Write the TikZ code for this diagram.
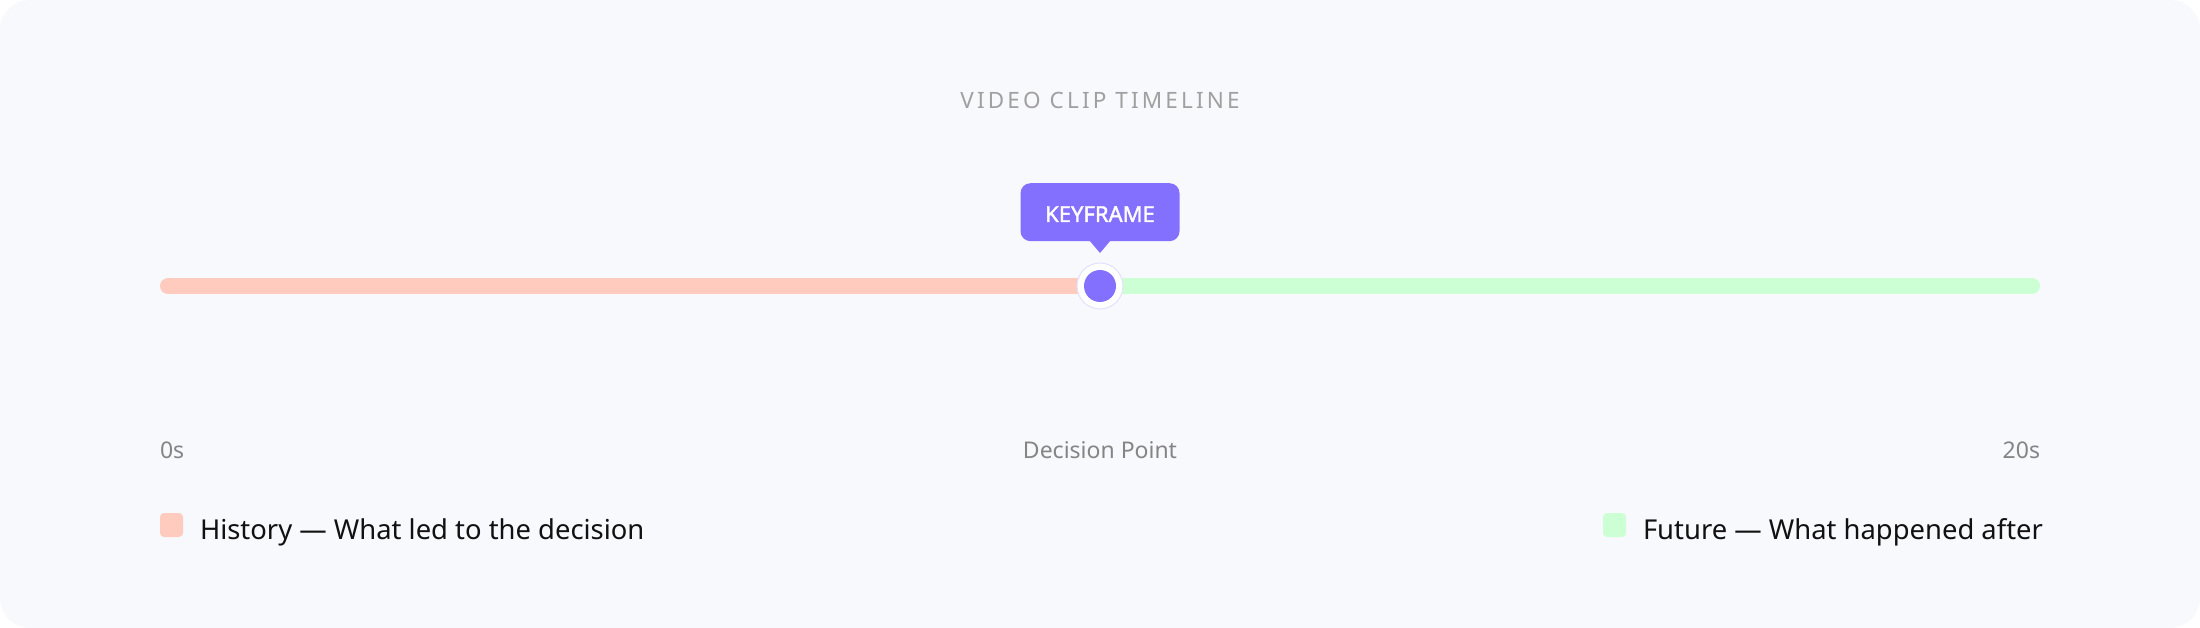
\documentclass[tikz,border=0pt]{standalone}
\usepackage{fontspec}
\setmainfont{Noto Sans}
\newfontfamily\titlefont[LetterSpace=14]{Noto Sans}
\newfontfamily\kffont[FakeBold=1.6]{Noto Sans}
\definecolor{bgc}{HTML}{F8F9FD}
\definecolor{hist}{HTML}{FFCBBE}
\definecolor{fut}{HTML}{CCFFD4}
\definecolor{kfp}{HTML}{8470FF}
\definecolor{ringc}{HTML}{E4E0FF}
\definecolor{titlec}{HTML}{A0A0A0}
\definecolor{axisc}{HTML}{858585}
\definecolor{legc}{HTML}{111111}
\tikzset{
  lbl/.style={inner sep=0pt, outer sep=0pt},
  axislbl/.style={lbl, text=axisc, font=\fontsize{23}{26}\selectfont},
  leglbl/.style={lbl, text=legc, font=\fontsize{27.4}{30}\selectfont, anchor=base west},
  legsq/.style={rounded corners=4pt, draw=none},
  barline/.style={line width=16pt, line cap=round},
}
\begin{document}
\begin{tikzpicture}[x=1pt,y=-1pt]
\useasboundingbox (0,0) rectangle (2200,628);
\fill[white] (0,0) rectangle (2200,628);
\fill[bgc, rounded corners=30pt] (0,0) rectangle (2200,628);
% title
\node[lbl, anchor=base, text=titlec, font=\titlefont\fontsize{22.5}{24}\selectfont] (title) at (1100,109) {VIDEO CLIP TIMELINE};
% bars
\coordinate (barL) at (168,286);
\coordinate (barM) at (1100,286);
\coordinate (barR) at (2032,286);
\draw[barline, hist] (barL) -- (barM);
\draw[barline, fut] (barM) -- (barR);
% keyframe marker
\node[circle, fill=white, draw=ringc, line width=1pt, minimum size=46pt, inner sep=0pt] (ring) at (barM) {};
\node[circle, fill=kfp, minimum size=32pt, inner sep=0pt] (kf) at (barM) {};
% tooltip
\node[fill=kfp, rounded corners=10pt, minimum width=159pt, minimum height=58pt, inner sep=0pt, anchor=north] (tip) at (1100,183) {};
\node[lbl, anchor=base, text=white, font=\kffont\fontsize{22}{24}\selectfont] (tiptext) at (1100,222) {KEYFRAME};
\coordinate (triL) at (1089,240);
\coordinate (triR) at (1111,240);
\coordinate (triT) at (1100,253);
\fill[kfp] (triL) -- (triR) -- (triT) -- cycle;
% axis labels
\node[axislbl, anchor=base west] (t0) at (160,458) {0s};
\node[axislbl, anchor=base] (tdp) at (1100,458) {Decision Point};
\node[axislbl, anchor=base east] (t20) at (2040,458) {20s};
% legend
\fill[hist, legsq] (160,513) rectangle (183,537);
\node[lbl] (hsq) at (171,525) {};
\node[leglbl] (htext) at (200,539) {History — What led to the decision};
\fill[fut, legsq] (1603,513) rectangle (1626,537);
\node[lbl] (fsq) at (1614,525) {};
\node[leglbl] (ftext) at (1643,539) {Future — What happened after};
\end{tikzpicture}
\end{document}
